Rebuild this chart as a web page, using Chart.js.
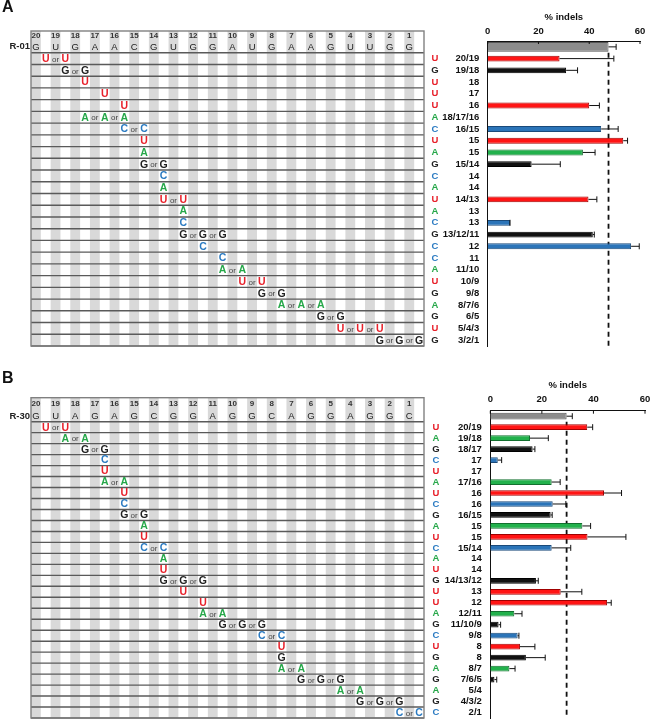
<!DOCTYPE html>
<html>
<head>
<meta charset="utf-8">
<script src="https://cdn.jsdelivr.net/npm/chart.js@4.4.0/dist/chart.umd.min.js"></script>
<style>
html, body { margin: 0; padding: 0; background: #fff; }
#wrapA { position: absolute; left: 0; top: 0; width: 650px; height: 350px; }
#wrapB { position: absolute; left: 0; top: 355px; width: 650px; height: 364px; }
</style>
</head>
<body>
<div id="wrapA"><canvas id="chartA"></canvas></div>
<div id="wrapB"><canvas id="chartB"></canvas></div>
<script>
// target sequences, position 20 -> 1
var seqA = ['G','U','G','A','A','C','G','U','G','G','A','U','G','A','A','G','U','U','G','G'];
var seqB = ['G','U','A','G','A','G','C','G','G','A','G','G','C','A','G','G','A','G','G','C'];

// panel A (R-01): inserted nucleotide, insertion site(s), % indels and error
var insA = ['U','G','U','U','U','A','C','U','A','G','C','A','U','A','C','G','C','C','A','U','G','A','G','U','G'];
var siteA = ['20/19','19/18','18','17','16','18/17/16','16/15','15','15','15/14','14','14','14/13','13','13','13/12/11','12','11','11/10','10/9','9/8','8/7/6','6/5','5/4/3','3/2/1'];
var indelA = [28.3, 30.9, null, null, 40.0, null, 44.7, 53.4, 37.5, 17.3, null, null, 39.7, null, 8.8, 41.4, 56.5, null, null, null, null, null, null, null, null];
var errA = [21.4, 4.5, null, null, 4.0, null, 6.7, 1.7, 4.8, 11.3, null, null, 3.3, null, 0, 0.6, 3.2, null, null, null, null, null, null, null, null];
var ctrlA = [47.6, 3.0];

// panel B (R-30)
var insB = ['U','A','G','C','U','A','U','C','G','A','U','C','A','U','G','U','U','A','G','C','U','G','A','G','A','G','C'];
var siteB = ['20/19','19/18','18/17','17','17','17/16','16','16','16/15','15','15','15/14','14','14','14/13/12','13','12','12/11','11/10/9','9/8','8','8','8/7','7/6/5','5/4','4/3/2','2/1'];
var indelB = [37.6, 15.4, 16.4, 2.9, null, 23.8, 44.1, 24.2, 23.4, 35.7, 37.7, 23.8, null, null, 17.7, 27.3, 45.3, 9.3, 3.2, 10.6, 11.5, 13.8, 7.4, 1.6, null, null, null];
var errB = [2.1, 7.1, 0.9, 1.5, null, 3.3, 6.8, 5.1, 0.6, 3.2, 14.9, 7.4, null, null, 0.9, 8.2, 1.6, 3.0, 0.8, 0.5, 5.8, 7.5, 2.2, 0.9, null, null, null];
var ctrlB = [29.6, 2.2];

var FONT = '"Liberation Sans", Arial, sans-serif';
var fillCol = {U: '#ff1414', A: '#22b14c', C: '#2b74b8', G: '#111111'};
var edgeCol = {U: '#a00000', A: '#13702f', C: '#1a4a7a', G: '#000000'};
var textCol = {U: '#e8202a', A: '#27a84a', C: '#2b7bc2', G: '#222222'};

var layoutA = {gridLeft: 31, gridRight: 424, gridTop: 31, axisTop: 41, axisLeft: 487.7, padRight: 10, padBottom: 4,
  tickPad: 4.3, titlePad: 11.3, bar: 0.5, ctrlBar: 0.82, letterX: 435, panel: 'A', panelY: 7.5, name: 'R-01'};
var layoutB = {gridLeft: 31, gridRight: 424, gridTop: 42.7, axisTop: 55.7, axisLeft: 490.3, padRight: 5, padBottom: 1,
  tickPad: 5.3, titlePad: 24.3, bar: 0.52, ctrlBar: 0.62, letterX: 436, panel: 'B', panelY: 24, name: 'R-30'};

function tablePlugin(L, seq, ins, site, ctrl, errSets) {
  return {
    id: 'seqTable',
    beforeDatasetsDraw: function(chart) {
      var ctx = chart.ctx, ys = chart.scales.y, xs = chart.scales.x, ca = chart.chartArea;
      var w = (L.gridRight - L.gridLeft) / 20;
      var half = (ys.getPixelForValue(1) - ys.getPixelForValue(0)) / 2;
      var i, j, k;
      ctx.save();
      // grey stripes
      ctx.fillStyle = '#d9d9d9';
      for (k = 0; k < 20; k++) ctx.fillRect(L.gridLeft + k * w, L.gridTop, w / 2, ca.bottom - L.gridTop);
      // row rules
      ctx.strokeStyle = '#5a5a5a';
      ctx.lineWidth = 1.4;
      for (i = 0; i <= site.length; i++) {
        var yb = ys.getPixelForValue(i) + half;
        ctx.beginPath(); ctx.moveTo(L.gridLeft, yb); ctx.lineTo(L.gridRight, yb); ctx.stroke();
      }
      ctx.strokeStyle = '#808080';
      ctx.strokeRect(L.gridLeft, L.gridTop, L.gridRight - L.gridLeft, ca.bottom - L.gridTop);

      ctx.textAlign = 'center';
      ctx.textBaseline = 'middle';
      var yNum = (L.gridTop + ca.top) / 2, yHead = ys.getPixelForValue(0);
      for (k = 0; k < 20; k++) {
        var xc = L.gridLeft + k * w + w / 4;
        ctx.font = 'bold 8px ' + FONT; ctx.fillStyle = '#333';
        ctx.fillText(String(20 - k), xc, yNum);
        ctx.font = '9.5px ' + FONT; ctx.fillStyle = '#222';
        ctx.fillText(seq[k], xc, yHead + 0.5);
      }
      // insertions
      for (i = 0; i < site.length; i++) {
        var yr = ys.getPixelForValue(i + 1);
        var px = site[i].split('/').map(function(p) { return L.gridLeft + (20 - Number(p)) * w + 0.75 * w; });
        ctx.font = 'bold 10.5px ' + FONT; ctx.fillStyle = textCol[ins[i]];
        px.forEach(function(x) { ctx.fillText(ins[i], x, yr + 0.5); });
        ctx.font = '8px ' + FONT; ctx.fillStyle = '#444';
        for (j = 0; j < px.length - 1; j++) ctx.fillText('or', (px[j] + px[j + 1]) / 2, yr + 1);
        ctx.font = 'bold 9.5px ' + FONT; ctx.fillStyle = textCol[ins[i]];
        ctx.fillText(ins[i], L.letterX, yr);
      }
      // panel letter + guide name
      ctx.fillStyle = '#111';
      ctx.textAlign = 'left';
      ctx.font = 'bold 16px ' + FONT;
      ctx.fillText(L.panel, 2, L.panelY);
      ctx.textAlign = 'right';
      ctx.font = 'bold 9.5px ' + FONT;
      ctx.fillStyle = '#222';
      ctx.fillText(L.name, 30, yHead);
      // dashed control line
      var xd = xs.getPixelForValue(ctrl[0]);
      ctx.setLineDash([5, 4]);
      ctx.lineWidth = 1.8;
      ctx.strokeStyle = '#111';
      ctx.beginPath(); ctx.moveTo(xd, yHead + half); ctx.lineTo(xd, ca.bottom); ctx.stroke();
      ctx.restore();
    },
    afterDatasetsDraw: function(chart) {
      var ctx = chart.ctx, xs = chart.scales.x, ca = chart.chartArea;
      ctx.save();
      ctx.strokeStyle = '#111';
      ctx.lineWidth = 1;
      errSets.forEach(function(errs, d) {
        var meta = chart.getDatasetMeta(d);
        var vals = chart.data.datasets[d].data;
        meta.data.forEach(function(el, i) {
          if (vals[i] == null || errs[i] == null) return;
          var xe = xs.getPixelForValue(vals[i] + errs[i]);
          ctx.beginPath();
          ctx.moveTo(el.x, el.y); ctx.lineTo(xe, el.y);
          ctx.moveTo(xe, el.y - 3); ctx.lineTo(xe, el.y + 3);
          ctx.stroke();
        });
      });
      // short inward ticks on the top axis
      [0, 20, 40, 60].forEach(function(v) {
        var x = xs.getPixelForValue(v);
        ctx.beginPath(); ctx.moveTo(x, ca.top); ctx.lineTo(x, ca.top + 3); ctx.stroke();
      });
      ctx.restore();
    }
  };
}

function makeChart(id, L, seq, ins, site, indel, errs, ctrl) {
  var blanks = site.map(function() { return null; });
  var errSets = [[ctrl[1]].concat(blanks), [null].concat(errs)];
  var tickFont = {size: 9.5, weight: 'bold', family: FONT};
  return new Chart(document.getElementById(id), {
    type: 'bar',
    data: {
      labels: [''].concat(site),
      datasets: [
        {
          data: [ctrl[0]].concat(blanks),
          backgroundColor: '#8c8c8c', borderColor: '#555', borderWidth: 1,
          barPercentage: L.ctrlBar, categoryPercentage: 1, grouped: false
        },
        {
          data: [null].concat(indel),
          backgroundColor: [null].concat(ins.map(function(n) { return fillCol[n]; })),
          borderColor: [null].concat(ins.map(function(n) { return edgeCol[n]; })),
          borderWidth: 1,
          barPercentage: L.bar, categoryPercentage: 1, grouped: false
        }
      ]
    },
    options: {
      indexAxis: 'y',
      responsive: true,
      maintainAspectRatio: false,
      animation: false,
      layout: {padding: {left: 0, top: 0, right: L.padRight, bottom: L.padBottom}},
      plugins: {legend: {display: false}, tooltip: {enabled: false}},
      scales: {
        x: {
          position: 'top', min: 0, max: 60,
          ticks: {stepSize: 20, padding: L.tickPad, color: '#111', font: tickFont},
          grid: {display: false, drawTicks: false},
          border: {display: true, color: '#111', width: 1},
          title: {display: true, text: '% indels', color: '#111', font: tickFont, padding: {top: L.titlePad, bottom: 0}},
          afterFit: function(s) { s.height = L.axisTop; s.paddingLeft = 0; s.paddingRight = 0; }
        },
        y: {
          ticks: {autoSkip: false, padding: 8.5, color: '#111', font: tickFont},
          grid: {display: false, drawTicks: false},
          border: {display: true, color: '#111', width: 1},
          afterFit: function(s) { s.width = L.axisLeft; s.paddingTop = 0; s.paddingBottom = 0; }
        }
      }
    },
    plugins: [tablePlugin(L, seq, ins, site, ctrl, errSets)]
  });
}

makeChart('chartA', layoutA, seqA, insA, siteA, indelA, errA, ctrlA);
makeChart('chartB', layoutB, seqB, insB, siteB, indelB, errB, ctrlB);
</script>
</body>
</html>
